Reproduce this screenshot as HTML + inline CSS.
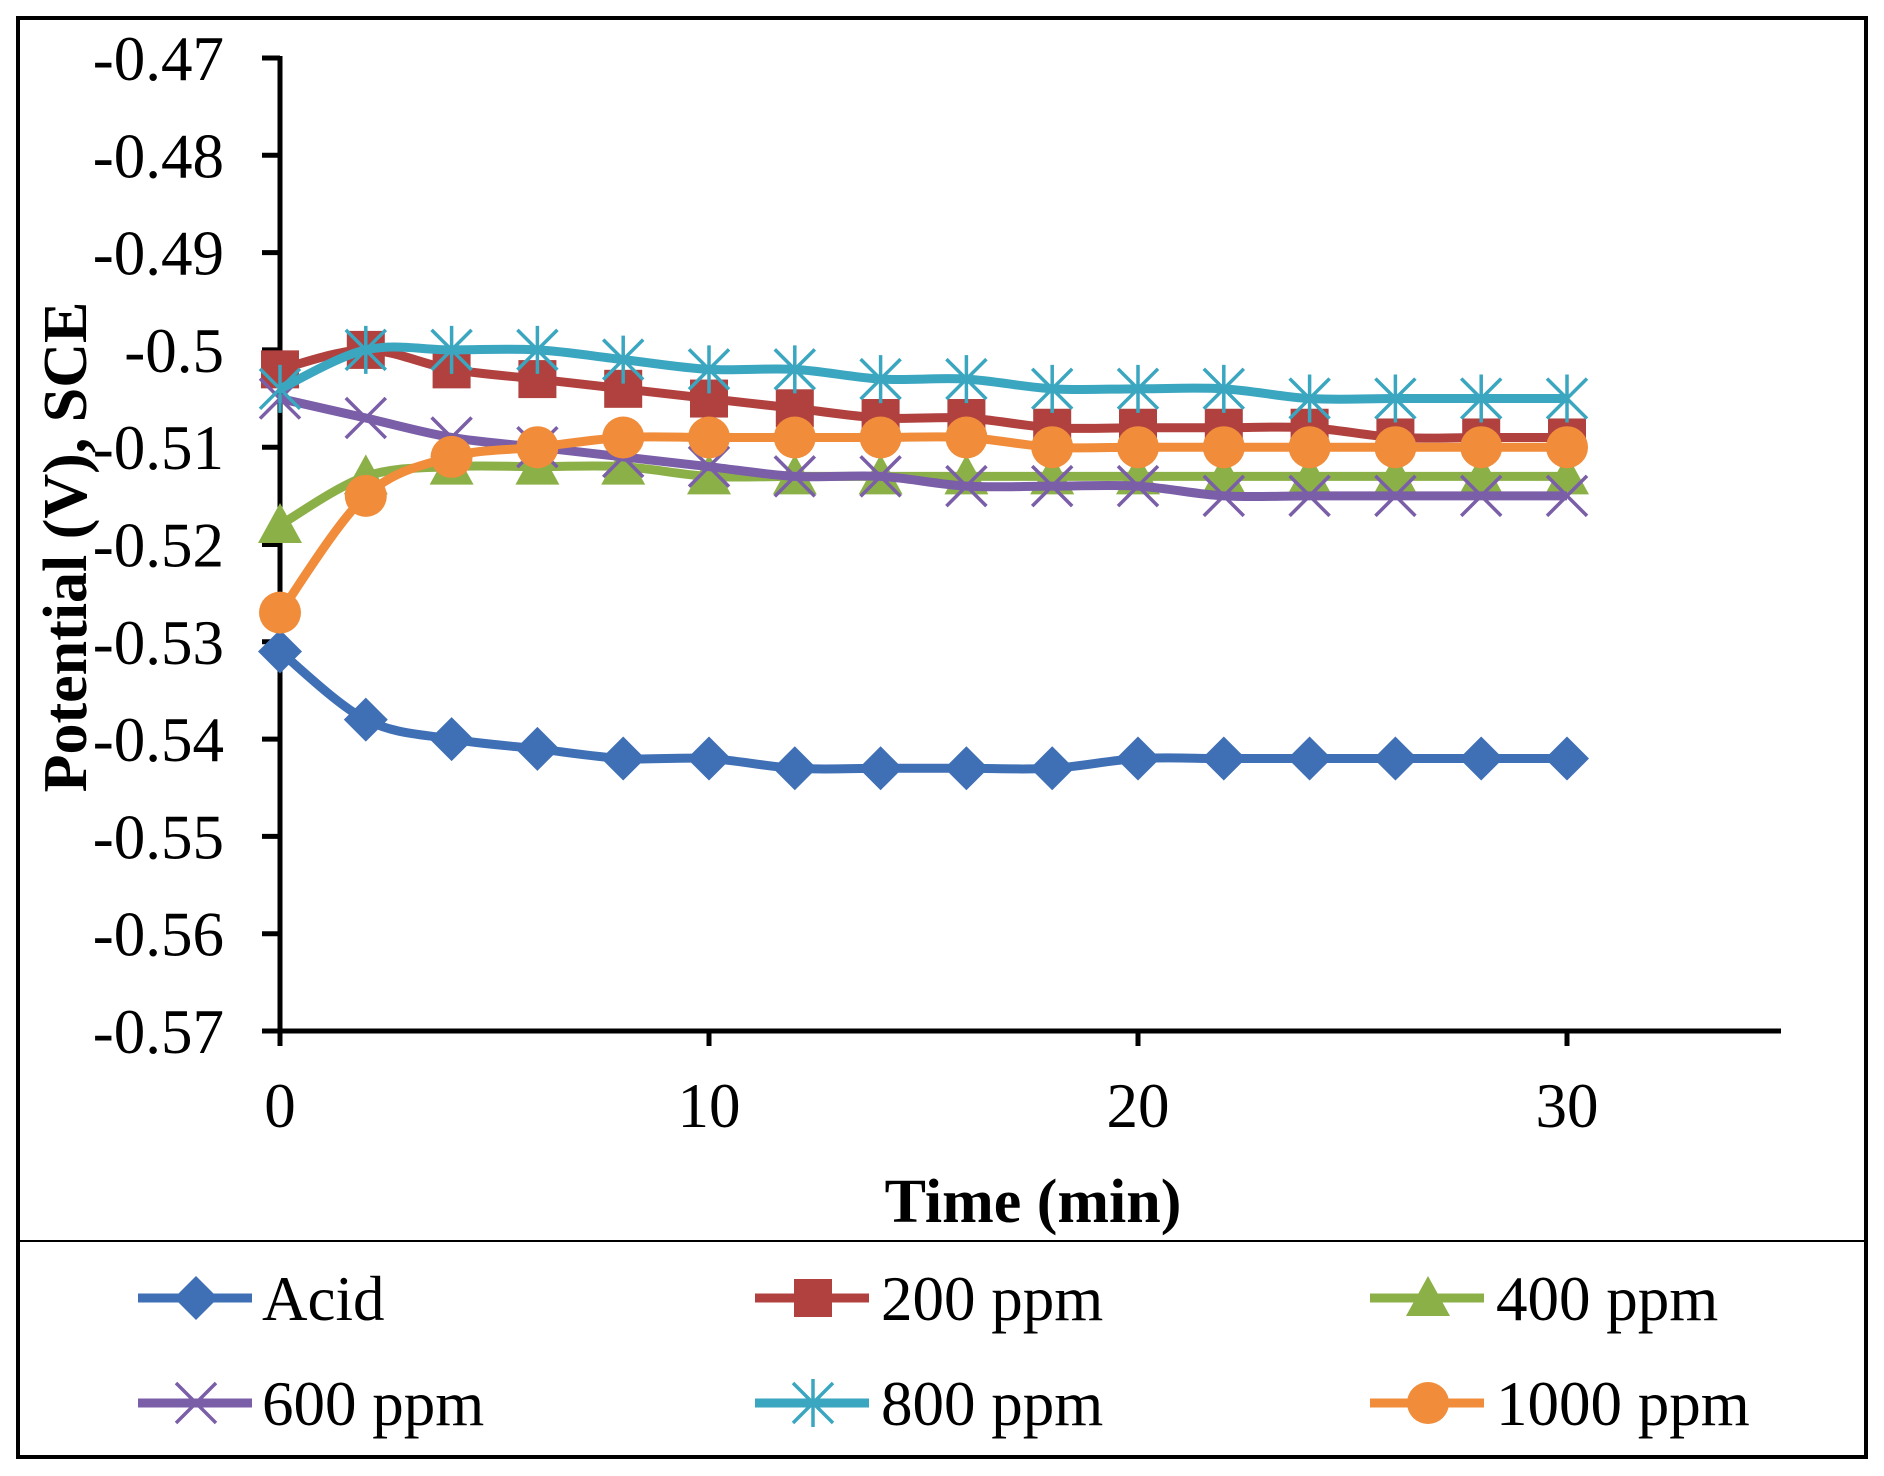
<!DOCTYPE html>
<html><head><meta charset="utf-8"><style>
body{margin:0;background:#fff;}
svg{display:block}
text{font-family:"Liberation Serif",serif;}
</style></head><body>
<svg id="s" width="1884" height="1476" xmlns="http://www.w3.org/2000/svg">
<rect x="18" y="18" width="1848" height="1439" fill="#fff" stroke="#000" stroke-width="4"/>
<line x1="18" y1="1241" x2="1866" y2="1241" stroke="#000" stroke-width="2"/>
<g id="ax" stroke="#000" stroke-width="5" fill="none">
<line x1="280" y1="56" x2="280" y2="1031"/>
<line x1="264" y1="1031" x2="1781" y2="1031"/>
</g>
<g id="g"></g>
<text x="0" y="0" transform="translate(86,547) rotate(-90)" text-anchor="middle" font-size="62" font-weight="bold">Potential (V), SCE</text>
<text x="1033" y="1222" text-anchor="middle" font-size="62" font-weight="bold">Time (min)</text>
</svg>
<script>
var NS="http://www.w3.org/2000/svg",g=document.getElementById('g');
function el(t,a,p){var e=document.createElementNS(NS,t);for(var k in a)e.setAttribute(k,a[k]);(p||g).appendChild(e);return e;}
function Y(v){return 58+(-0.47-v)*9730;}
function X(t){return 280+42.9*t;}
for(var i=0;i<=10;i++){var v=-0.47-i*0.01,y=Y(v);
el('line',{x1:262,y1:y,x2:280,y2:y,stroke:'#000','stroke-width':5});
var s=v.toFixed(2);if(s=="-0.50")s="-0.5";
var tx=el('text',{x:224,y:y+22,'text-anchor':'end','font-size':63});tx.textContent=s;}
[0,10,20,30].forEach(function(t){el('line',{x1:X(t),y1:1031,x2:X(t),y2:1046,stroke:'#000','stroke-width':5});
var tx=el('text',{x:X(t),y:1127,'text-anchor':'middle','font-size':63});tx.textContent=t;});
var D=[
["#3f6fb5","d",[-0.531,-0.538,-0.540,-0.541,-0.542,-0.542,-0.543,-0.543,-0.543,-0.543,-0.542,-0.542,-0.542,-0.542,-0.542,-0.542],"Acid"],
["#b0413e","s",[-0.502,-0.500,-0.502,-0.503,-0.504,-0.505,-0.506,-0.507,-0.507,-0.508,-0.508,-0.508,-0.508,-0.509,-0.509,-0.509],"200 ppm"],
["#8cb048","t",[-0.518,-0.513,-0.512,-0.512,-0.512,-0.513,-0.513,-0.513,-0.513,-0.513,-0.513,-0.513,-0.513,-0.513,-0.513,-0.513],"400 ppm"],
["#7a5ea8","x",[-0.505,-0.507,-0.509,-0.510,-0.511,-0.512,-0.513,-0.513,-0.514,-0.514,-0.514,-0.515,-0.515,-0.515,-0.515,-0.515],"600 ppm"],
["#3aa6c0","a",[-0.504,-0.500,-0.500,-0.500,-0.501,-0.502,-0.502,-0.503,-0.503,-0.504,-0.504,-0.504,-0.505,-0.505,-0.505,-0.505],"800 ppm"],
["#f08c3a","o",[-0.527,-0.515,-0.511,-0.510,-0.509,-0.509,-0.509,-0.509,-0.509,-0.510,-0.510,-0.510,-0.510,-0.510,-0.510,-0.510],"1000 ppm"]];
function mk(type,x,y,c){
 if(type=="d")el('polygon',{points:[x,y-22,x+22,y,x,y+22,x-22,y].join(' '),fill:c});
 else if(type=="s")el('rect',{x:x-19,y:y-19,width:38,height:38,fill:c});
 else if(type=="t")el('polygon',{points:[x,y-22,x+22,y+18,x-22,y+18].join(' '),fill:c});
 else if(type=="o")el('circle',{cx:x,cy:y,r:21,fill:c});
 else if(type=="x"){el('path',{d:"M"+(x-20)+" "+(y-20)+"L"+(x+20)+" "+(y+20)+"M"+(x+20)+" "+(y-20)+"L"+(x-20)+" "+(y+20),stroke:c,'stroke-width':3.5});}
 else {el('path',{d:"M"+(x-20)+" "+(y-20)+"L"+(x+20)+" "+(y+20)+"M"+(x+20)+" "+(y-20)+"L"+(x-20)+" "+(y+20)+"M"+x+" "+(y-24)+"L"+x+" "+(y+24),stroke:c,'stroke-width':3.5});}
}
D.forEach(function(s){
 var P=s[2].map(function(v,i){return [X(2*i),Y(v)];});
 var d="M"+P[0][0]+" "+P[0][1];
 for(var i=0;i<P.length-1;i++){var p0=P[Math.max(0,i-1)],p1=P[i],p2=P[i+1],p3=P[Math.min(P.length-1,i+2)];
  d+="C"+(p1[0]+(p2[0]-p0[0])/6)+" "+(p1[1]+(p2[1]-p0[1])/6)+" "+(p2[0]-(p3[0]-p1[0])/6)+" "+(p2[1]-(p3[1]-p1[1])/6)+" "+p2[0]+" "+p2[1];}
 el('path',{d:d,fill:'none',stroke:s[0],'stroke-width':9});
 P.forEach(function(p){mk(s[1],p[0],p[1],s[0]);});
});
var LX=[[138,262],[755,881],[1370,1496]],LY=[1298,1403];
D.forEach(function(s,i){var c=i%3,r=Math.floor(i/3),y=LY[r];
 el('line',{x1:LX[c][0],y1:y,x2:LX[c][0]+114,y2:y,stroke:s[0],'stroke-width':9});
 mk(s[1],LX[c][0]+58,y,s[0]);
 var t=el('text',{x:LX[c][1],y:y+22,'font-size':63});t.textContent=s[3];});
</script>
</body></html>
